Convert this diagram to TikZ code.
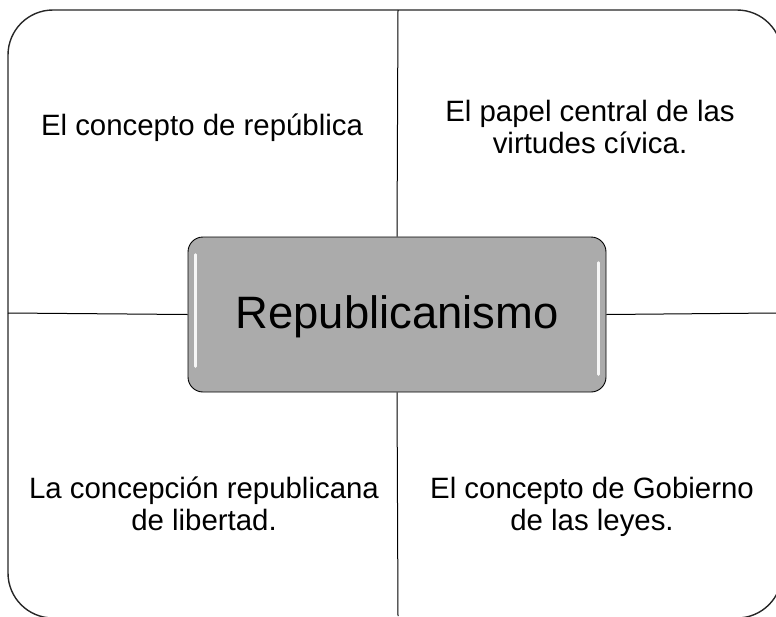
\documentclass[tikz,border=0pt]{standalone}
\usepackage{fontspec}
\setmainfont{Liberation Sans}
\begin{document}
\begin{tikzpicture}[x=1pt,y=-1pt,
  quadtext/.style={align=center,anchor=base,inner sep=0pt,font=\fontsize{29.4}{32}\selectfont},
  hubbox/.style={rounded corners=15pt,draw=black,line width=0.9pt,fill=black!33},
  frame/.style={rounded corners=45pt,draw=black!85,line width=1.4pt},
  divider/.style={draw=black,line width=1pt}]
\useasboundingbox (0,0) rectangle (776,616);
\begin{scope}
\clip (0,0) rectangle (776,616);
\draw[frame] (8,10) rectangle (782,618);
\end{scope}
\coordinate (top) at (398,10);
\coordinate (bottom) at (398,616);
\coordinate (left) at (8,313);
\coordinate (right) at (776,313);
\node[hubbox,minimum width=418pt,minimum height=155pt,inner sep=0pt] (hub) at (397,314.5) {};
% glossy highlights
\draw[white,line width=2.6pt,line cap=round,opacity=0.9] ([xshift=8pt,yshift=-18pt]hub.north west) -- ([xshift=8pt,yshift=26pt]hub.south west);
\draw[white,line width=2.6pt,line cap=round,opacity=0.9] ([xshift=-8pt,yshift=-26pt]hub.north east) -- ([xshift=-8pt,yshift=18pt]hub.south east);
\node[font=\fontsize{45.4}{50}\selectfont,anchor=base,inner sep=0pt] (hubtext) at (397,328) {Republicanismo};
\draw[divider] (top) -- (hub.north);
\draw[divider] (hub.south) -- (bottom);
\draw[divider] (left) -- (hub.west);
\draw[divider] (hub.east) -- (right);
\node[quadtext] (q1) at (202,135) {El concepto de república};
\node[quadtext] (q2) at (590,153) {El papel central de las\\virtudes cívica.};
\node[quadtext] (q3) at (204,530) {La concepción republicana\\de libertad.};
\node[quadtext] (q4) at (592,530) {El concepto de Gobierno\\de las leyes.};
\end{tikzpicture}
\end{document}
